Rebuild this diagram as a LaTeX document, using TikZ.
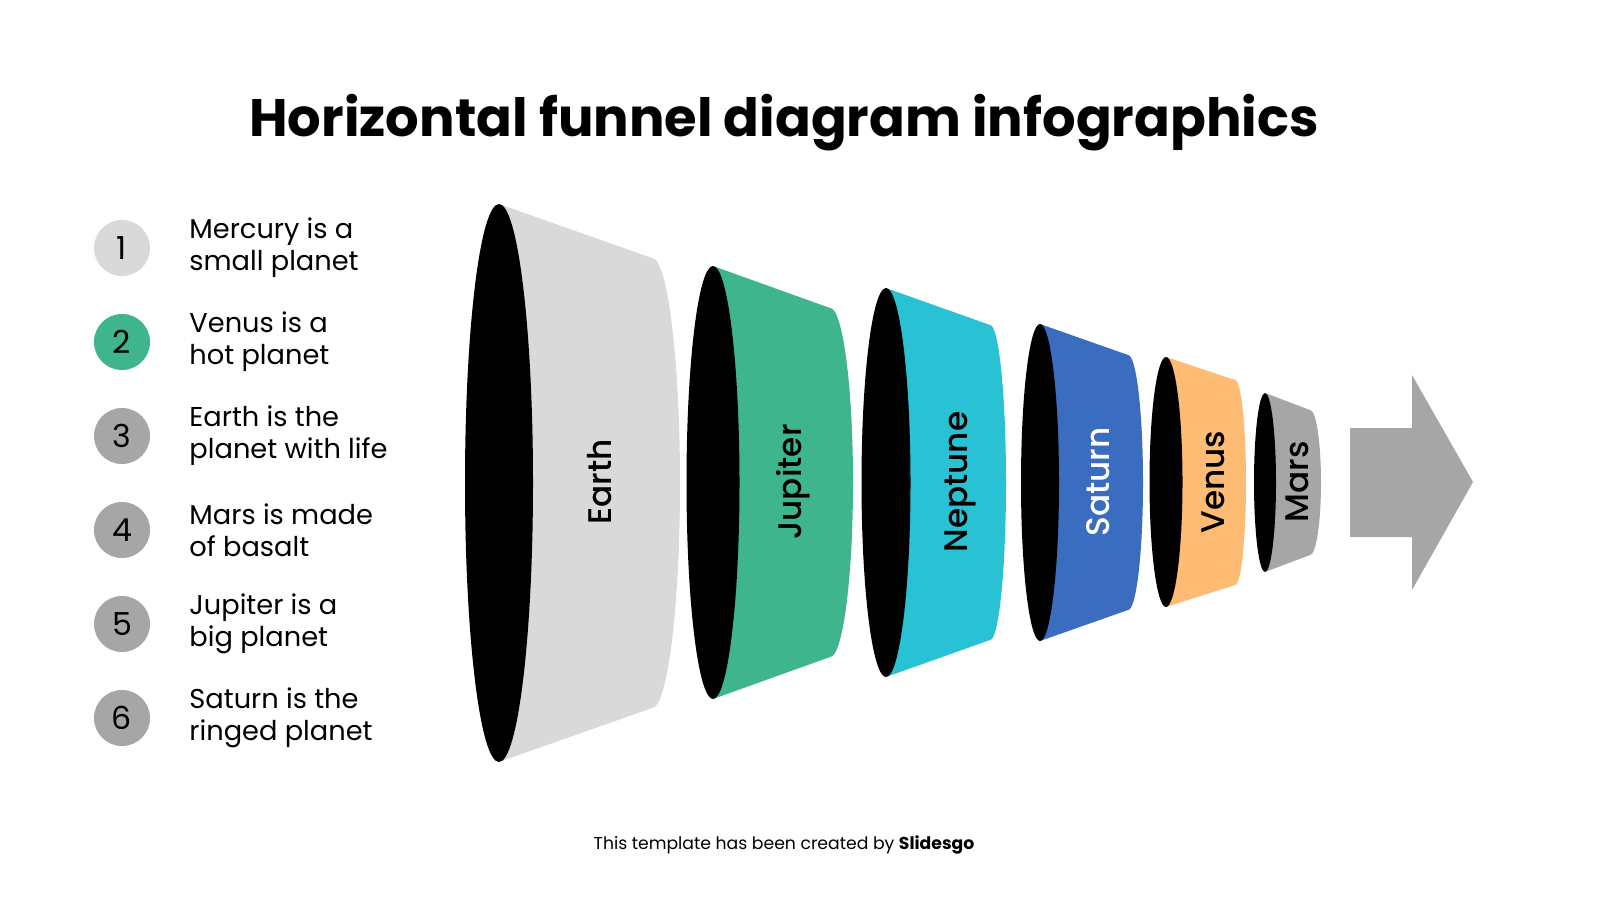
\documentclass[tikz,border=0pt]{standalone}
\usepackage{fontspec}
\setmainfont{Poppins}
\newfontfamily\labelfont{Poppins Medium}
\usetikzlibrary{positioning}
\definecolor{earth_fill}{HTML}{D9D9D9}
\definecolor{jupiter_fill}{HTML}{3EB58D}
\definecolor{neptune_fill}{HTML}{29C2D4}
\definecolor{saturn_fill}{HTML}{3A6CC0}
\definecolor{venus_fill}{HTML}{FDBB74}
\definecolor{mars_fill}{HTML}{A6A6A6}
\definecolor{arrow_fill}{HTML}{A6A6A6}

\begin{document}
\begin{tikzpicture}[
    x=0.01cm, y=-0.01cm,
    % stili per la lista a sinistra
    num_circle/.style = {
        circle,
        minimum size=0.56cm,
        inner sep=0,
        font=\fontsize{9}{10}\selectfont
    },
    item_text/.style = {
        anchor=west,
        align=left,
        inner sep=0,
        font=\fontsize{7.75}{9.1}\selectfont
    },
    % etichette dentro l'imbuto
    funnel_label/.style = {
        rotate=90,
        inner sep=0,
        font=\fontsize{9.3}{11}\labelfont
    }
]
\useasboundingbox (0,0) rectangle (1600,900);

% 1. Titolo
\node[font=\fontsize{15}{18}\selectfont\bfseries] (title) at (784,123) {Horizontal funnel diagram infographics};

% 2. Lista numerata
\node[num_circle, fill=earth_fill] (num1) at (122,248) {1};
\node[num_circle, fill=jupiter_fill] (num2) at (122,342) {2};
\node[num_circle, fill=mars_fill] (num3) at (122,436) {3};
\node[num_circle, fill=mars_fill] (num4) at (122,530) {4};
\node[num_circle, fill=mars_fill] (num5) at (122,624) {5};
\node[num_circle, fill=mars_fill] (num6) at (122,718) {6};

\node[item_text, right=0.38cm of num1] (txt1) {Mercury is a\\small planet};
\node[item_text, right=0.38cm of num2] (txt2) {Venus is a\\hot planet};
\node[item_text, right=0.38cm of num3] (txt3) {Earth is the\\planet with life};
\node[item_text, right=0.38cm of num4] (txt4) {Mars is made\\of basalt};
\node[item_text, right=0.38cm of num5] (txt5) {Jupiter is a\\big planet};
\node[item_text, right=0.38cm of num6] (txt6) {Saturn is the\\ringed planet};

% 3. Imbuto orizzontale (corpo colorato + bocca nera)
% Earth
\fill[earth_fill] (499,204) -- (652,258) arc[start angle=-90, end angle=90, x radius=28, y radius=225] -- (499,762) -- cycle;
\fill[black] (499,483) ellipse[x radius=34, y radius=279];
% Jupiter
\fill[jupiter_fill] (713,266) -- (830,308) arc[start angle=-90, end angle=90, x radius=23, y radius=174.5] -- (713,699) -- cycle;
\fill[black] (713,482.5) ellipse[x radius=26.5, y radius=216.5];
% Neptune
\fill[neptune_fill] (886,288) -- (990,325) arc[start angle=-90, end angle=90, x radius=16, y radius=157.5] -- (886,677) -- cycle;
\fill[black] (886,482.5) ellipse[x radius=24.5, y radius=194.5];
% Saturn
\fill[saturn_fill] (1040,324) -- (1128,355) arc[start angle=-90, end angle=90, x radius=15, y radius=127.5] -- (1040,641) -- cycle;
\fill[black] (1040,482.5) ellipse[x radius=19, y radius=158.5];
% Venus
\fill[venus_fill] (1166,357) -- (1235,380) arc[start angle=-90, end angle=90, x radius=11, y radius=102.5] -- (1166,607) -- cycle;
\fill[black] (1166,482) ellipse[x radius=16.5, y radius=125];
% Mars
\fill[mars_fill] (1265,393) -- (1310,410) arc[start angle=-90, end angle=90, x radius=11, y radius=72.5] -- (1265,572) -- cycle;
\fill[black] (1265,482.5) ellipse[x radius=11, y radius=89.5];

% Etichette dei pianeti
\node[funnel_label] (lab_earth) at (600,482) {Earth};
\node[funnel_label] (lab_jupiter) at (793,482) {Jupiter};
\node[funnel_label] (lab_neptune) at (960,482) {Neptune};
\node[funnel_label, text=white] (lab_saturn) at (1098,482) {Saturn};
\node[funnel_label] (lab_venus) at (1213,482) {Venus};
\node[funnel_label] (lab_mars) at (1297,482) {Mars};

% 4. Freccia finale
\fill[arrow_fill] (1350,428) -- (1412,428) -- (1412,375) -- (1473,482) -- (1412,590) -- (1412,537) -- (1350,537) -- cycle;

% 5. Crediti
\node[font=\fontsize{4.9}{6}\selectfont] (credits) at (784,845) {This template has been created by \textbf{Slidesgo}};

\end{tikzpicture}
\end{document}
